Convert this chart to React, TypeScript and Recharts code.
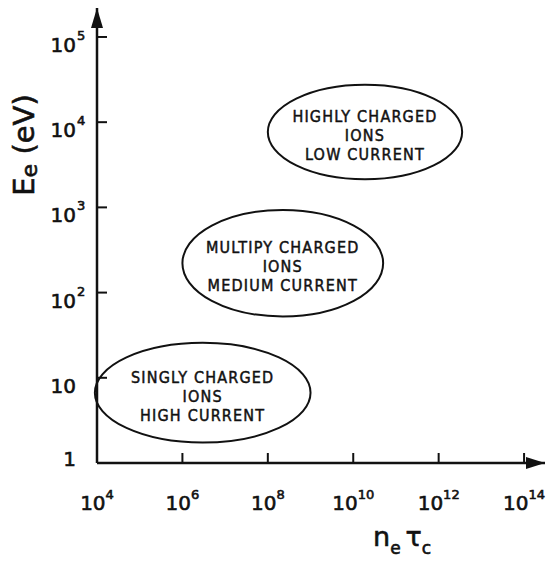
import { ComposedChart, XAxis, YAxis, ReferenceArea, ReferenceDot } from "recharts";

// exponents: n_e tau_c = 10^x, E_e = 10^y eV
const X_TICKS = [4, 6, 8, 10, 12, 14];
const Y_TICKS = [0, 1, 2, 3, 4, 5];
const Y_TICK_BASE = ["1", "10", "10", "10", "10", "10"];
const Y_TICK_EXP = ["", "", "2", "3", "4", "5"];

const REGION_TEXT = [
  ["SINGLY CHARGED", "IONS", "HIGH CURRENT"],
  ["MULTIPY CHARGED", "IONS", "MEDIUM CURRENT"],
  ["HIGHLY CHARGED", "IONS", "LOW CURRENT"],
];
// extent of each region in log10(n_e tau_c)
const REGION_NT = [
  [3.95, 9.0],
  [6.0, 10.7],
  [8.0, 12.55],
];
// extent of each region in log10(E_e / eV)
const REGION_E = [
  [0.24, 1.41],
  [1.72, 2.97],
  [3.33, 4.44],
];

const X_MAX = 14.49;
const Y_MAX = 5.34;

const INK = "#111";
const NUM_FONT = "'DejaVu Sans', sans-serif";
const TXT_FONT = "'DejaVu Sans Condensed', 'DejaVu Sans', sans-serif";
// hand-lettered look: slightly heavier strokes
const heavy = { stroke: INK, strokeWidth: 0.6 };

const XTick = (p: any) => {
  const { x, y, payload } = p;
  return (
    <g>
      <line x1={x} x2={x} y1={y} y2={y - 10} stroke={INK} strokeWidth={2} />
      <text x={x} y={y + 47} textAnchor="middle" fill={INK} {...heavy} fontFamily={NUM_FONT} fontSize={20}>
        <tspan>10</tspan>
        <tspan dy={-11} fontSize={13}>{payload.value}</tspan>
      </text>
    </g>
  );
};

const YTick = (p: any) => {
  const { x, y, index } = p;
  const exp = Y_TICK_EXP[index];
  const base = index === 0 ? y + 3 : y + 15;
  return (
    <g>
      {index > 0 && <line x1={x} x2={x + 10} y1={y} y2={y} stroke={INK} strokeWidth={2} />}
      <text x={x - 21} y={base} textAnchor="end" fill={INK} {...heavy} fontFamily={NUM_FONT} fontSize={20}>
        {Y_TICK_BASE[index]}
      </text>
      {exp && (
        <text x={x - 20} y={base - 12} fill={INK} {...heavy} fontFamily={NUM_FONT} fontSize={13}>
          {exp}
        </text>
      )}
    </g>
  );
};

const Region = (p: any) => {
  const { x, y, width, height, lines } = p;
  const cx = x + width / 2;
  const cy = y + height / 2;
  return (
    <g>
      <ellipse cx={cx} cy={cy} rx={width / 2} ry={height / 2} fill="none" stroke={INK} strokeWidth={2} />
      {lines.map((t: string, i: number) => (
        <text
          key={i}
          x={cx}
          y={cy + 9 + (i - 1) * 19}
          textAnchor="middle"
          fill={INK}
          stroke={INK}
          strokeWidth={0.45}
          fontFamily={TXT_FONT}
          fontSize={16}
          letterSpacing={1.2}
        >
          {t}
        </text>
      ))}
    </g>
  );
};

export default function App() {
  return (
    <div style={{ position: "absolute", left: 0, top: 0, background: "#fff" }}>
      <ComposedChart width={552} height={562} margin={{ top: 8, right: 7, bottom: 0, left: 0 }}>
        <XAxis
          type="number"
          dataKey="x"
          domain={[4, X_MAX]}
          allowDataOverflow
          ticks={X_TICKS}
          interval={0}
          height={99}
          tickSize={0}
          tickMargin={0}
          tickLine={false}
          axisLine={{ stroke: INK, strokeWidth: 2.5 }}
          tick={XTick}
          label={{
            content: () => (
              <text x={373} y={546} fill={INK} {...heavy} fontFamily={NUM_FONT} fontSize={27}>
                <tspan>n</tspan>
                <tspan dy={8} fontSize={17}>e</tspan>
                <tspan dx={5} dy={-8}>τ</tspan>
                <tspan dy={8} fontSize={17}>c</tspan>
              </text>
            ),
          }}
        />
        <YAxis
          type="number"
          dataKey="y"
          domain={[0, Y_MAX]}
          allowDataOverflow
          ticks={Y_TICKS}
          interval={0}
          width={97}
          tickSize={0}
          tickMargin={0}
          tickLine={false}
          axisLine={{ stroke: INK, strokeWidth: 2.5 }}
          tick={YTick}
          label={{
            content: () => (
              <text
                x={34}
                y={145}
                transform="rotate(-90 34 145)"
                textAnchor="middle"
                fill={INK}
                {...heavy}
                fontFamily={NUM_FONT}
                fontSize={29}
              >
                <tspan>E</tspan>
                <tspan dy={3} fontSize={22}>e</tspan>
                <tspan dy={-3}> (eV)</tspan>
              </text>
            ),
          }}
        />
        {REGION_TEXT.map((lines, i) => (
          <ReferenceArea
            key={i}
            x1={REGION_NT[i][0]}
            x2={REGION_NT[i][1]}
            y1={REGION_E[i][0]}
            y2={REGION_E[i][1]}
            ifOverflow="visible"
            shape={(p: any) => <Region {...p} lines={lines} />}
          />
        ))}
        <ReferenceDot
          x={X_MAX}
          y={0}
          ifOverflow="visible"
          shape={(p: any) => <path d={`M${p.cx},${p.cy} l-19,-6 l0,12 z`} fill={INK} />}
        />
        <ReferenceDot
          x={4}
          y={Y_MAX}
          ifOverflow="visible"
          shape={(p: any) => <path d={`M${p.cx},${p.cy} l-6,20 l12,0 z`} fill={INK} />}
        />
      </ComposedChart>
    </div>
  );
}
